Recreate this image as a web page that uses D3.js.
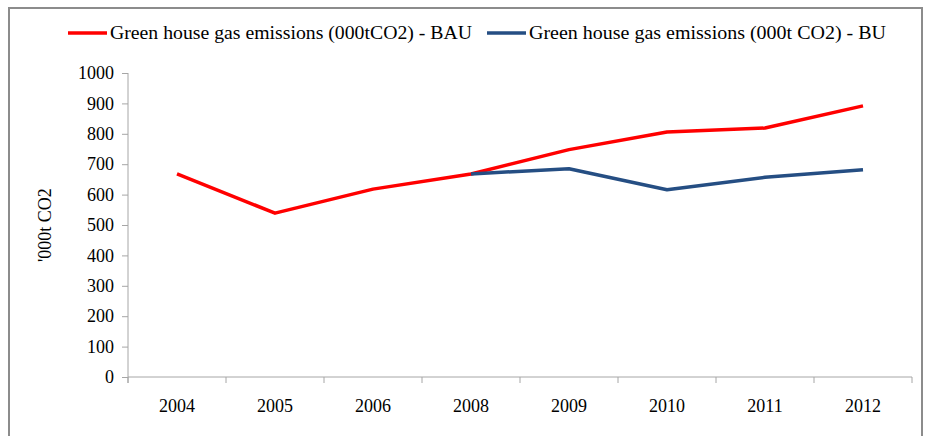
<!DOCTYPE html>
<html>
<head>
<meta charset="utf-8">
<script src="https://cdn.jsdelivr.net/npm/d3@7"></script>
<style>
  body { margin: 0; background: #fff; }
  svg text { font-family: "Liberation Serif", "DejaVu Serif", serif; fill: #000; }
  .axis path, .axis line { stroke: #a6a6a6; }
  .axis text { font-size: 18px; }
</style>
</head>
<body>
<script>
var years = ["2004", "2005", "2006", "2008", "2009", "2010", "2011", "2012"];
var bauValues = [668, 539, 618, 668, 748, 806, 819, 892];
var buValues = [null, null, null, 668, 685, 616, 657, 682];
var yTicks = [0, 100, 200, 300, 400, 500, 600, 700, 800, 900, 1000];
var seriesNames = ["Green house gas emissions (000tCO2) - BAU", "Green house gas emissions (000t CO2) - BU"];
var seriesColors = ["#ff0000", "#254e83"];

var w = 925, h = 436;
var margin = {top: 73, right: 13, bottom: 59, left: 128};
var iw = w - margin.left - margin.right;
var ih = h - margin.top - margin.bottom;
var serif = '"Liberation Serif", "DejaVu Serif", serif';

var svg = d3.select('body').append('svg')
    .attr('width', w)
    .attr('height', h)
    .style('display', 'block');

// outer frame
svg.append('rect')
    .attr('x', 9)
    .attr('y', 8)
    .attr('width', 913)
    .attr('height', 440)
    .attr('fill', 'none')
    .attr('stroke', '#8c8c8c')
    .attr('stroke-width', 2);

var g = svg.append('g')
    .attr('transform', 'translate(' + margin.left + ',' + margin.top + ')');

var xScale = d3.scaleBand()
    .domain(years)
    .range([0, iw]);

var yScale = d3.scaleLinear()
    .domain([0, 1000])
    .range([ih, 0]);

// Y-axis
var yAxis = g.append('g')
    .attr('class', 'axis')
    .call(d3.axisLeft(yScale).tickValues(yTicks).tickFormat(d3.format('d'))
        .tickSize(6).tickSizeOuter(0).tickPadding(8));
yAxis.select('.domain').attr('d', 'M0,0V' + (ih + 6));

// X-axis, ticks on the band edges
var xAxis = g.append('g')
    .attr('class', 'axis')
    .attr('transform', 'translate(0,' + ih + ')')
    .call(d3.axisBottom(xScale).tickSize(0).tickPadding(22));
xAxis.select('.domain').attr('d', 'M0,0H' + iw);
xAxis.selectAll('.edge')
    .data(years.concat(['end']))
    .enter()
    .append('line')
    .attr('class', 'edge')
    .attr('x1', function (d, i) { return i * xScale.step(); })
    .attr('x2', function (d, i) { return i * xScale.step(); })
    .attr('y1', 0)
    .attr('y2', 6);

g.selectAll('.axis text')
    .style('font-family', serif)
    .style('font-size', '18px');

// y-axis label
svg.append('text')
    .attr('transform', 'translate(45,' + (margin.top + ih / 2) + ') rotate(-90)')
    .attr('text-anchor', 'middle')
    .attr('dy', '0.35em')
    .style('font-family', serif)
    .style('font-size', '18px')
    .text("'000t CO2");

var line = d3.line()
    .defined(function (d) { return d != null; })
    .x(function (d, i) { return xScale(years[i]) + xScale.bandwidth() / 2; })
    .y(function (d) { return yScale(d); });

[bauValues, buValues].forEach(function (vals, k) {
    g.append('path')
        .datum(vals)
        .attr('fill', 'none')
        .attr('stroke', seriesColors[k])
        .attr('stroke-width', 3.5)
        .attr('stroke-linejoin', 'round')
        .attr('d', line);
});

// legend
var legendX = [68, 487];
var legendLen = [362, 357];
seriesNames.forEach(function (name, k) {
    var lg = svg.append('g').attr('transform', 'translate(' + legendX[k] + ',33)');
    lg.append('line')
        .attr('x1', 0).attr('x2', 39)
        .attr('stroke', seriesColors[k])
        .attr('stroke-width', 3.5);
    lg.append('text')
        .attr('x', 42)
        .attr('dy', '0.35em')
        .attr('textLength', legendLen[k])
        .attr('lengthAdjust', 'spacingAndGlyphs')
        .style('font-family', serif)
        .style('font-size', '18px')
        .text(name);
});
</script>
</body>
</html>
